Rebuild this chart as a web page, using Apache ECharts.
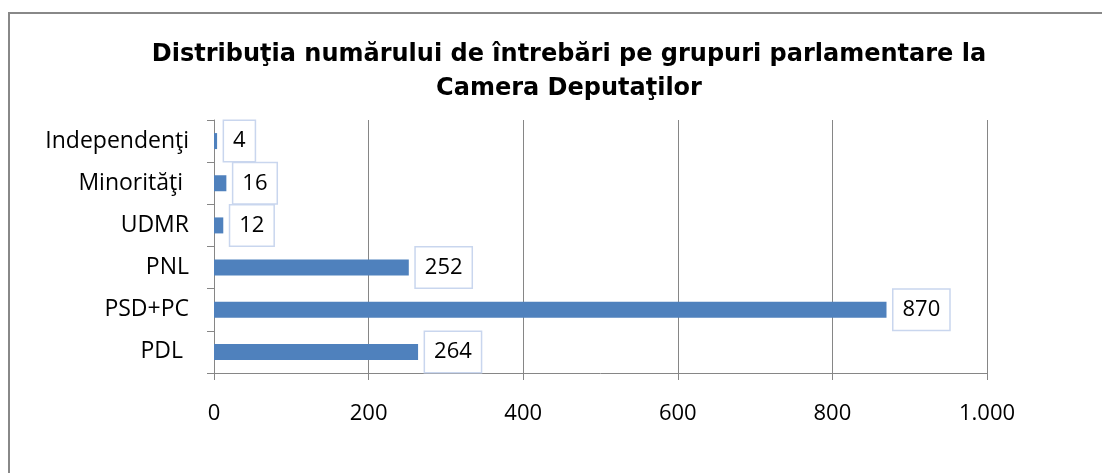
<!DOCTYPE html>
<html>
<head>
<meta charset="utf-8">
<title>Camera Deputatilor</title>
<script src="https://cdn.jsdelivr.net/npm/echarts@6/dist/echarts.min.js"></script>
<style>
html,body{margin:0;padding:0;background:#fff;}
#chart{width:1102px;height:473px;}
</style>
</head>
<body>
<div id="chart"></div>
<script>
// date grafic (de jos in sus, ca in Excel)
var categorii = ['PDL ', 'PSD+PC', 'PNL', 'UDMR', 'Minorităţi ', 'Independenţi'];
var intrebari = [264, 870, 252, 12, 16, 4];
var xMin = 0, xMax = 1000, xPas = 200;

var chartTitle = 'Distribuţia numărului de întrebări pe grupuri parlamentare la\nCamera Deputaţilor';

/*format cu punct pentru mii: 1000 -> 1.000*/
var formatMii = function(v){
    return String(v).replace(/\B(?=(\d{3})+(?!\d))/g, '.');
};

var chart = echarts.init(document.getElementById('chart'));
var option = {
    backgroundColor: '#fff',
    animation: false,
    title: {
        text: chartTitle,
        left: 564,
        top: 33,
        textAlign: 'center',
        textStyle: {
            fontFamily: 'DejaVu Sans',
            fontWeight: 'bold',
            fontSize: 24,
            lineHeight: 34,
            color: '#000'
        }
    },
    // chenarul gri (doar sus si stanga se vad)
    graphic: [
        {type: 'line', shape: {x1: 8, y1: 13, x2: 1102, y2: 13}, style: {stroke: '#888', lineWidth: 2}},
        {type: 'line', shape: {x1: 9, y1: 12, x2: 9, y2: 473}, style: {stroke: '#888', lineWidth: 2}}
    ],
    grid: {left: 214, right: 115, top: 120, bottom: 100},
    xAxis: {
        type: 'value',
        min: xMin,
        max: xMax,
        interval: xPas,
        axisLine: {show: true, lineStyle: {color: '#868686', width: 1}},
        axisTick: {show: true, length: 7, lineStyle: {color: '#868686'}},
        splitLine: {show: true, lineStyle: {color: '#868686', width: 1}},
        axisLabel: {
            margin: 30,
            fontFamily: 'Open Sans',
            fontSize: 22,
            color: '#000',
            formatter: formatMii
        }
    },
    yAxis: {
        type: 'category',
        data: categorii,
        axisLine: {show: true, lineStyle: {color: '#868686', width: 1}},
        axisTick: {show: true, length: 7, lineStyle: {color: '#868686'}},
        splitLine: {show: false},
        axisLabel: {
            margin: 25,
            fontFamily: 'Open Sans',
            fontSize: 23,
            color: '#000'
        }
    },
    series: [{
        type: 'bar',
        data: intrebari,
        barWidth: 16,
        itemStyle: {color: '#4f81bd'},
        label: {
            show: true,
            position: 'right',
            distance: 7,
            fontFamily: 'Open Sans',
            fontSize: 22,
            lineHeight: 26,
            color: '#000',
            backgroundColor: '#fff',
            borderColor: '#c9d6ee',
            borderWidth: 1.5,
            padding: [7, 9]
        }
    }]
};
chart.setOption(option);
</script>
</body>
</html>
